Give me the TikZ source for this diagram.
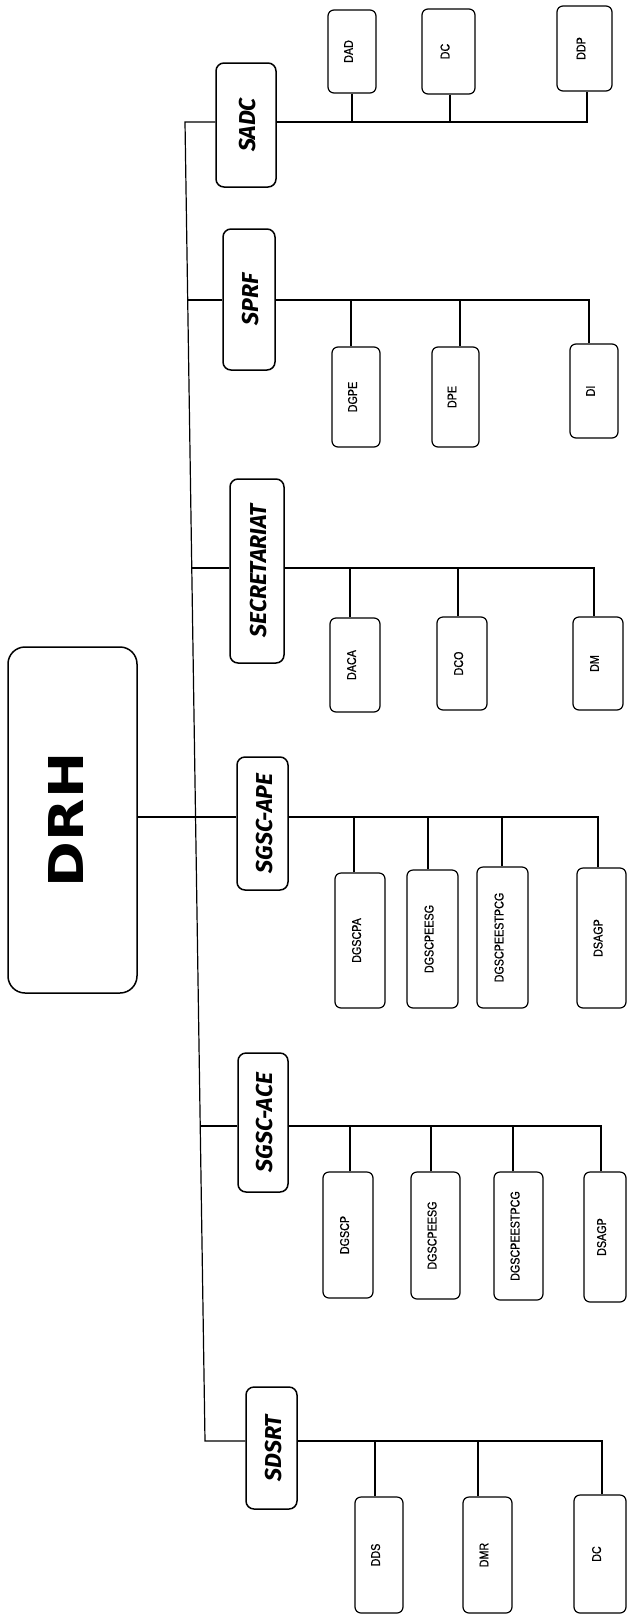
\documentclass[tikz,border=0pt]{standalone}
\usepackage{fontspec}
\usepackage{graphicx}
\setmainfont{Liberation Sans}
\newfontfamily\kidfont[FakeStretch=0.84,FakeBold=0.8]{Liberation Sans}
\newfontfamily\mgrfont{Fira Sans}
\newfontfamily\topfont[FakeStretch=1.15]{DejaVu Sans}
\newcommand\kl[1]{\rotatebox{90}{\kidfont\fontsize{12.8}{14}\selectfont\rule[-7pt]{0pt}{7pt}#1}}
\newcommand\ml[1]{\rotatebox{90}{\mgrfont\bfseries\itshape\fontsize{23}{26}\selectfont\rule{0pt}{20pt}#1}}
\begin{document}
\begin{tikzpicture}[x=1pt,y=-1pt,
  kid/.style={draw, line width=1.2pt, rounded corners=6pt, inner sep=0pt},
  mgr/.style={draw, line width=1.5pt, rounded corners=8pt, inner sep=0pt},
  link/.style={line width=1.2pt}]
\useasboundingbox (0,0) rectangle (627,1617);

% top box
\node[draw, line width=1.5pt, rounded corners=17pt, inner sep=0pt,
      minimum width=129pt, minimum height=346pt] (DRH) at (72.5,820)
  {\rotatebox{90}{\topfont\bfseries\fontsize{48}{50}\selectfont\rule[-12pt]{0pt}{12pt}DRH}};

% managers
\node[mgr, minimum width=60pt, minimum height=124pt] (SADC) at (246,125) {\ml{SADC}};
\node[mgr, minimum width=52pt, minimum height=141pt] (SPRF) at (249,299.5) {\ml{SPRF}};
\node[mgr, minimum width=54pt, minimum height=184pt] (SEC) at (257,571) {\ml{SECRETARIAT}};
\node[mgr, minimum width=51pt, minimum height=133pt] (APE) at (262.5,823.5) {\ml{SGSC-APE}};
\node[mgr, minimum width=50pt, minimum height=139pt] (ACE) at (263,1122.5) {\ml{SGSC-ACE}};
\node[mgr, minimum width=51pt, minimum height=122pt] (SDSRT) at (271.5,1448) {\ml{SDSRT}};

% spine junctions
\coordinate (jSADC) at (185,122);
\coordinate (jSPRF) at (187.7,300);
\coordinate (jSEC) at (191.7,568);
\coordinate (jAPE) at (195.5,817);
\coordinate (jACE) at (200.2,1126);
\coordinate (jSDSRT) at (205,1441);

% SADC children
\node[kid, minimum width=48pt, minimum height=83pt] (DAD) at (352,51.5) {\kl{DAD}};
\node[kid, minimum width=53pt, minimum height=85pt] (DCa) at (448.5,51.5) {\kl{DC}};
\node[kid, minimum width=55pt, minimum height=85pt] (DDP) at (584.5,48.5) {\kl{DDP}};

% SPRF children
\node[kid, minimum width=48pt, minimum height=100pt] (DGPE) at (356,397) {\kl{DGPE}};
\node[kid, minimum width=47pt, minimum height=100pt] (DPE) at (455.5,397) {\kl{DPE}};
\node[kid, minimum width=48pt, minimum height=94pt] (DI) at (594,391) {\kl{DI}};

% SECRETARIAT children
\node[kid, minimum width=50pt, minimum height=94pt] (DACA) at (355,665) {\kl{DACA}};
\node[kid, minimum width=50pt, minimum height=93pt] (DCO) at (462,663.5) {\kl{DCO}};
\node[kid, minimum width=50pt, minimum height=93pt] (DM) at (598,663.5) {\kl{DM}};

% SGSC-APE children
\node[kid, minimum width=50pt, minimum height=135pt] (DGSCPA) at (360,940.5) {\kl{DGSCPA}};
\node[kid, minimum width=51pt, minimum height=138pt] (DGSCPEESGa) at (432.5,939) {\kl{DGSCPEESG}};
\node[kid, minimum width=51pt, minimum height=141pt] (DGSCPEESTPCGa) at (502.5,937.5) {\kl{DGSCPEESTPCG}};
\node[kid, minimum width=49pt, minimum height=140pt] (DSAGPa) at (601.5,938) {\kl{DSAGP}};

% SGSC-ACE children
\node[kid, minimum width=50pt, minimum height=126pt] (DGSCP) at (348,1235) {\kl{DGSCP}};
\node[kid, minimum width=49pt, minimum height=127pt] (DGSCPEESGb) at (435.5,1235.5) {\kl{DGSCPEESG}};
\node[kid, minimum width=49pt, minimum height=128pt] (DGSCPEESTPCGb) at (518.5,1236) {\kl{DGSCPEESTPCG}};
\node[kid, minimum width=42pt, minimum height=130pt] (DSAGPb) at (605,1237) {\kl{DSAGP}};

% SDSRT children
\node[kid, minimum width=48pt, minimum height=116pt] (DDS) at (379,1555) {\kl{DDS}};
\node[kid, minimum width=49pt, minimum height=116pt] (DMR) at (487.5,1555) {\kl{DMR}};
\node[kid, minimum width=52pt, minimum height=118pt] (DCb) at (600,1554) {\kl{DC}};

% spine and DRH link
\draw[link] (SADC.west |- jSADC) -- (jSADC) -- (jSDSRT) -- (SDSRT.west |- jSDSRT);
\draw[link] (DRH.east |- jAPE) -- (jAPE) -- (APE.west |- jAPE);
\draw[link] (jSPRF) -- (SPRF.west |- jSPRF);
\draw[link] (jSEC) -- (SEC.west |- jSEC);
\draw[link] (jACE) -- (ACE.west |- jACE);

% SADC branch
\draw[link] (SADC.east |- jSADC) -| ([xshift=2.5pt]DDP.south);
\draw[link] (DAD.south) -- (DAD.south |- jSADC);
\draw[link] ([xshift=1.5pt]DCa.south) -- ([xshift=1.5pt]DCa.south |- jSADC);

% SPRF branch
\draw[link] (SPRF.east |- jSPRF) -| ([xshift=-5pt]DI.north);
\draw[link] ([xshift=-5pt]DGPE.north) -- ([xshift=-5pt]DGPE.north |- jSPRF);
\draw[link] ([xshift=4.5pt]DPE.north) -- ([xshift=4.5pt]DPE.north |- jSPRF);

% SECRETARIAT branch
\draw[link] (SEC.east |- jSEC) -| ([xshift=-4pt]DM.north);
\draw[link] ([xshift=-5pt]DACA.north) -- ([xshift=-5pt]DACA.north |- jSEC);
\draw[link] ([xshift=-4pt]DCO.north) -- ([xshift=-4pt]DCO.north |- jSEC);

% SGSC-APE branch
\draw[link] (APE.east |- jAPE) -| ([xshift=-3.5pt]DSAGPa.north);
\draw[link] ([xshift=-6pt]DGSCPA.north) -- ([xshift=-6pt]DGSCPA.north |- jAPE);
\draw[link] ([xshift=-4.5pt]DGSCPEESGa.north) -- ([xshift=-4.5pt]DGSCPEESGa.north |- jAPE);
\draw[link] ([xshift=-0.5pt]DGSCPEESTPCGa.north) -- ([xshift=-0.5pt]DGSCPEESTPCGa.north |- jAPE);

% SGSC-ACE branch
\draw[link] (ACE.east |- jACE) -| ([xshift=-4pt]DSAGPb.north);
\draw[link] ([xshift=2pt]DGSCP.north) -- ([xshift=2pt]DGSCP.north |- jACE);
\draw[link] ([xshift=-4.5pt]DGSCPEESGb.north) -- ([xshift=-4.5pt]DGSCPEESGb.north |- jACE);
\draw[link] ([xshift=-5.5pt]DGSCPEESTPCGb.north) -- ([xshift=-5.5pt]DGSCPEESTPCGb.north |- jACE);

% SDSRT branch
\draw[link] (SDSRT.east |- jSDSRT) -| ([xshift=2pt]DCb.north);
\draw[link] ([xshift=-4pt]DDS.north) -- ([xshift=-4pt]DDS.north |- jSDSRT);
\draw[link] ([xshift=-9.5pt]DMR.north) -- ([xshift=-9.5pt]DMR.north |- jSDSRT);
\end{tikzpicture}
\end{document}
